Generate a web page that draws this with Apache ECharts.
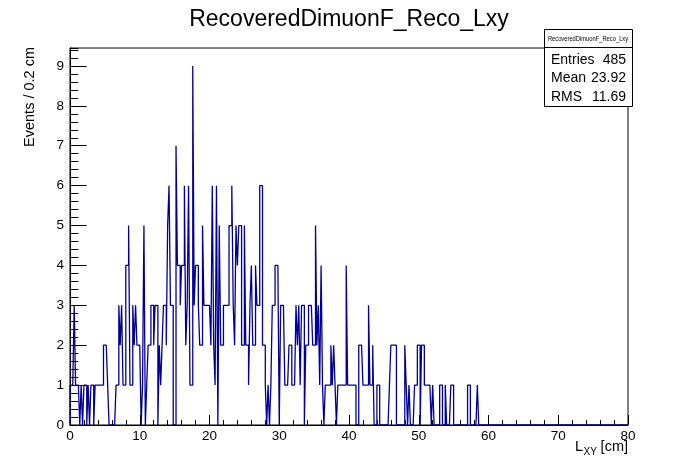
<!DOCTYPE html>
<html>
<head>
<meta charset="utf-8">
<script src="https://cdn.jsdelivr.net/npm/echarts@6.0.0/dist/echarts.min.js"></script>
<style>
  html, body { margin: 0; padding: 0; background: #fff; }
  #chart { width: 698px; height: 474px; }
</style>
</head>
<body>
<div id="chart"></div>
<script>
// Histogram: 400 bins of 0.2 cm from 0 to 80 cm
const histTitle = 'RecoveredDimuonF_Reco_Lxy';
const binWidth = 0.2;
const xRange = [0, 80];
const yMax = 9.45;
const counts = [
  1,1,1,3,1,1,1,0,1,0, 1,1,0,1,0,1,1,0,1,1,
  1,1,1,1,2,2,2,1,0,0, 0,0,0,1,1,3,2,3,1,1,
  4,4,5,1,1,3,2,3,2,2, 2,0,1,5,0,1,2,2,3,3,
  2,3,3,0,2,1,2,3,3,2, 5,6,3,3,0,0,7,4,4,3,
  4,4,6,2,3,6,1,1,9,3, 4,4,3,2,2,5,3,3,3,3,
  3,2,6,2,1,6,0,5,2,2, 3,3,3,3,5,5,6,3,2,5,
  4,5,5,2,2,5,2,2,1,3, 4,2,2,4,3,3,6,6,2,2,
  1,0,1,0,1,3,3,4,4,4, 0,3,3,3,1,1,1,2,2,1,
  1,1,3,2,3,1,3,3,0,2, 2,3,3,3,2,2,5,2,3,1,
  4,1,0,1,1,1,1,2,1,2, 1,0,1,1,1,1,1,1,4,1,
  1,1,1,1,1,0,0,2,2,2, 1,1,1,1,3,1,1,2,0,0,
  1,1,0,0,0,0,0,0,0,1, 2,2,2,2,0,0,0,0,0,0,
  2,1,0,1,0,0,0,1,1,2, 2,0,2,2,1,1,1,1,1,0,
  1,0,0,0,0,1,1,0,0,1, 0,0,0,1,1,0,0,0,0,0,
  0,0,0,0,0,1,1,0,0,0, 0,0,1,0,0,0,0,0,0,0,
  0,0,0,0,0,0,0,0,0,0, 0,0,0,0,0,0,0,0,0,0,
  0,0,0,0,0,0,0,0,0,0, 0,0,0,0,0,0,0,0,0,0,
  0,0,0,0,0,0,0,0,0,0, 0,0,0,0,0,0,0,0,0,0,
  0,0,0,0,0,0,0,0,0,0, 0,0,0,0,0,0,0,0,0,0,
  0,0,0,0,0,0,0,0,0,0, 0,0,0,0,0,0,0,0,0,0
];
const statLabels = ['Entries', 'Mean', 'RMS'];
const statValues = ['485', '23.92', '11.69'];
const yTitle = 'Events / 0.2 cm';

// Build step outline points from bin edges
const outline = [[xRange[0], 0]];
counts.forEach((c, i) => outline.push([+(xRange[0] + i * binWidth).toFixed(4), c]));
outline.push([xRange[1], counts[counts.length - 1]]);

const FONT = 'Liberation Sans, Arial, Helvetica, sans-serif';
const chart = echarts.init(document.getElementById('chart'), null, { renderer: 'canvas' });

const statGraphics = [
  { type: 'rect', z: 100, shape: { x: 544.5, y: 29.5, width: 88, height: 77 },
    style: { fill: '#fff', stroke: '#000', lineWidth: 1 } },
  { type: 'line', z: 101, shape: { x1: 544.5, y1: 47.5, x2: 632.5, y2: 47.5 },
    style: { stroke: '#000', lineWidth: 1 } },
  { type: 'text', z: 101, x: 588, y: 39, scaleX: 0.77,
    style: { text: histTitle, fontFamily: FONT, fontSize: 7.5, fill: '#000',
             textAlign: 'center', textVerticalAlign: 'middle' } }
];
statLabels.forEach((lab, i) => {
  const yy = 60 + i * 18.5;
  statGraphics.push({ type: 'text', z: 101, x: 551, y: yy,
    style: { text: lab, fontFamily: FONT, fontSize: 14, fill: '#000',
             textAlign: 'left', textVerticalAlign: 'middle' } });
  statGraphics.push({ type: 'text', z: 101, x: 626, y: yy,
    style: { text: statValues[i], fontFamily: FONT, fontSize: 14, fill: '#000',
             textAlign: 'right', textVerticalAlign: 'middle' } });
});

const option = {
  animation: false,
  backgroundColor: '#fff',
  title: {
    text: histTitle, left: 'center', top: 3,
    textStyle: { fontFamily: FONT, fontSize: 23, fontWeight: 'normal', color: '#000' }
  },
  grid: { left: 70, right: 70, top: 48, bottom: 49, show: true, borderColor: '#000', borderWidth: 1, backgroundColor: 'transparent', containLabel: false },
  xAxis: [{
    type: 'value', min: xRange[0], max: xRange[1], interval: 10, position: 'bottom',
    axisLine: { show: true, lineStyle: { color: '#000', width: 1 } },
    axisTick: { show: true, inside: true, length: 10, lineStyle: { color: '#000', width: 1 } },
    minorTick: { show: true, splitNumber: 5, length: 5, lineStyle: { color: '#000', width: 1 } },
    axisLabel: { color: '#000', fontFamily: FONT, fontSize: 13.5, margin: 4 },
    splitLine: { show: false }
  }],
  yAxis: [{
    type: 'value', min: 0, max: yMax, interval: 1, position: 'left',
    axisLine: { show: true, lineStyle: { color: '#000', width: 1 } },
    axisTick: { show: true, inside: true, length: 16.7, lineStyle: { color: '#000', width: 1 } },
    axisLabel: { color: '#000', fontFamily: FONT, fontSize: 13.5, margin: 6, showMaxLabel: false,
      formatter: v => (Math.abs(v - Math.round(v)) < 1e-6 ? String(Math.round(v)) : '') },
    splitLine: { show: false }
  }, {
    type: 'value', min: 0, max: yMax, interval: 0.2, position: 'left',
    axisLine: { show: false },
    axisTick: { show: true, inside: true, length: 8.3, lineStyle: { color: '#000', width: 1 } },
    axisLabel: { show: false },
    splitLine: { show: false }
  }],
  series: [{
    type: 'line', xAxisIndex: 0, yAxisIndex: 0, step: 'end', data: outline,
    showSymbol: false, symbol: 'none', clip: true,
    lineStyle: { color: '#000099', width: 1.3 }
  }],
  graphic: [
    { type: 'text', z: 100, x: 30, y: 47, rotation: Math.PI / 2,
      style: { text: yTitle, fontFamily: FONT, fontSize: 14.5, fill: '#000',
               textAlign: 'right', textVerticalAlign: 'middle' } },
    { type: 'text', z: 100, x: 575, y: 447,
      style: { text: 'L', fontFamily: FONT, fontSize: 14.5, fill: '#000', textAlign: 'left', textVerticalAlign: 'middle' } },
    { type: 'text', z: 100, x: 583.5, y: 452,
      style: { text: 'XY', fontFamily: FONT, fontSize: 10, fill: '#000', textAlign: 'left', textVerticalAlign: 'middle' } },
    { type: 'text', z: 100, x: 628, y: 447,
      style: { text: '[cm]', fontFamily: FONT, fontSize: 14.5, fill: '#000', textAlign: 'right', textVerticalAlign: 'middle' } }
  ].concat(statGraphics)
};
chart.setOption(option);
</script>
</body>
</html>
